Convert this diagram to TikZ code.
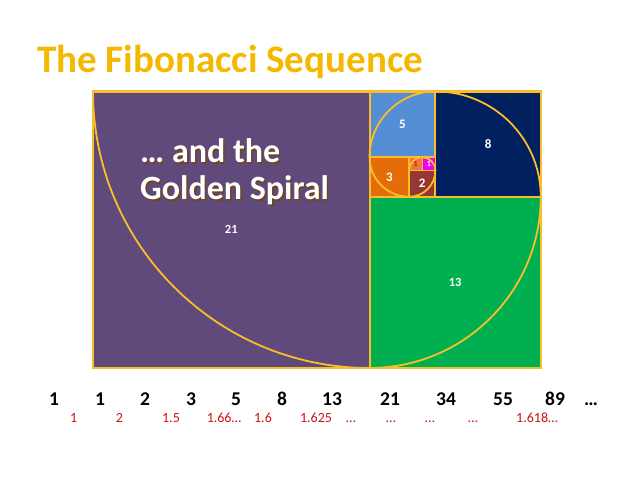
\documentclass[tikz,border=0pt]{standalone}
\usepackage{fontspec}
\setmainfont{Carlito}
\definecolor{gold}{RGB}{245,184,0}
\definecolor{goldline}{RGB}{250,190,40}
\definecolor{purp}{RGB}{96,74,123}
\definecolor{blu}{RGB}{85,142,213}
\definecolor{navy}{RGB}{0,32,96}
\definecolor{grn}{RGB}{0,176,80}
\definecolor{orng}{RGB}{228,108,10}
\definecolor{brwn}{RGB}{149,55,53}
\definecolor{mag}{RGB}{240,0,240}
\definecolor{lorng}{RGB}{235,120,60}
\definecolor{redtxt}{RGB}{200,20,20}
\definecolor{shad}{RGB}{110,70,30}
\begin{document}
\begin{tikzpicture}[x=1pt,y=1pt,
  sq/.style={draw=goldline, line width=2pt},
  lab/.style={text=white, font=\bfseries\fontsize{13}{15}\selectfont, inner sep=0},
  big/.style={anchor=base west, inner sep=0, font=\bfseries\fontsize{34}{40}\selectfont},
  seq/.style={anchor=base, inner sep=0, font=\bfseries\fontsize{19.5}{22}\selectfont},
  rat/.style={anchor=base, inner sep=0, text=redtxt, font=\fontsize{14}{16}\selectfont}]
\useasboundingbox (0,0) rectangle (638,479);
\node[anchor=west, text=gold, inner sep=0, font=\bfseries\fontsize{39}{44}\selectfont] (title) at (37,417) {The Fibonacci Sequence};
\begin{scope}[shift={(93,111)}, x=13.17pt, y=13.17pt]
  \draw[sq, fill=purp] (0,0) rectangle (21,21);
  \draw[sq, fill=grn] (21,0) rectangle (34,13);
  \draw[sq, fill=navy] (26,13) rectangle (34,21);
  \draw[sq, fill=blu] (21,16) rectangle (26,21);
  \draw[sq, fill=orng] (21,13) rectangle (24,16);
  \draw[sq, fill=brwn] (24,13) rectangle (26,15);
  \draw[sq, line width=1pt, fill=lorng] (24,15) rectangle (25,16);
  \draw[sq, line width=1pt, fill=mag] (25,15) rectangle (26,16);
  \draw[goldline, line width=2.5pt] (0,0) rectangle (34,21);
  \draw[goldline, line width=1.8pt] (0,21) arc[start angle=180, end angle=270, radius=21]
    arc[start angle=270, end angle=360, radius=13]
    arc[start angle=0, end angle=90, radius=8]
    arc[start angle=90, end angle=180, radius=5]
    arc[start angle=180, end angle=270, radius=3]
    arc[start angle=270, end angle=360, radius=2]
    arc[start angle=0, end angle=90, radius=1]
    arc[start angle=90, end angle=180, radius=1];
  \node[lab, font=\bfseries\fontsize{12.5}{14}\selectfont] (l21) at (10.5,10.5) {21};
  \node[lab, font=\bfseries\fontsize{12.5}{14}\selectfont] (l13) at (27.5,6.5) {13};
  \node[lab] (l8) at (30,17) {8};
  \node[lab] (l5) at (23.5,18.5) {5};
  \node[lab] (l3) at (22.5,14.5) {3};
  \node[lab] (l2) at (25,14) {2};
  \node[lab, text=redtxt, font=\bfseries\fontsize{8}{9}\selectfont] (l1a) at (24.5,15.5) {1};
  \node[lab, text=white, font=\bfseries\fontsize{8}{9}\selectfont] (l1b) at (25.5,15.5) {1};
\end{scope}
\node[big, text=shad] (s1) at (141.5,314.5) {… and the};
\node[big, text=shad] (s2) at (141.5,277.5) {Golden Spiral};
\node[big, text=white] (t1) at (140,316) {… and the};
\node[big, text=white] (t2) at (140,279) {Golden Spiral};
\foreach \n/\x [count=\i] in {1/54,1/100,2/145,3/191,5/236,8/282,13/332,21/390,34/446,55/503,89/555,…/591}
  \node[seq] (n\i) at (\x,73) {\n};
\foreach \n/\x [count=\i] in {1/73.7,2/119.5,1.5/171,1.66…/224,1.6/263,1.625/316,…/351,…/391,…/430,…/473,1.618…/537}
  \node[rat] (r\i) at (\x,56) {\n};
\end{tikzpicture}
\end{document}
